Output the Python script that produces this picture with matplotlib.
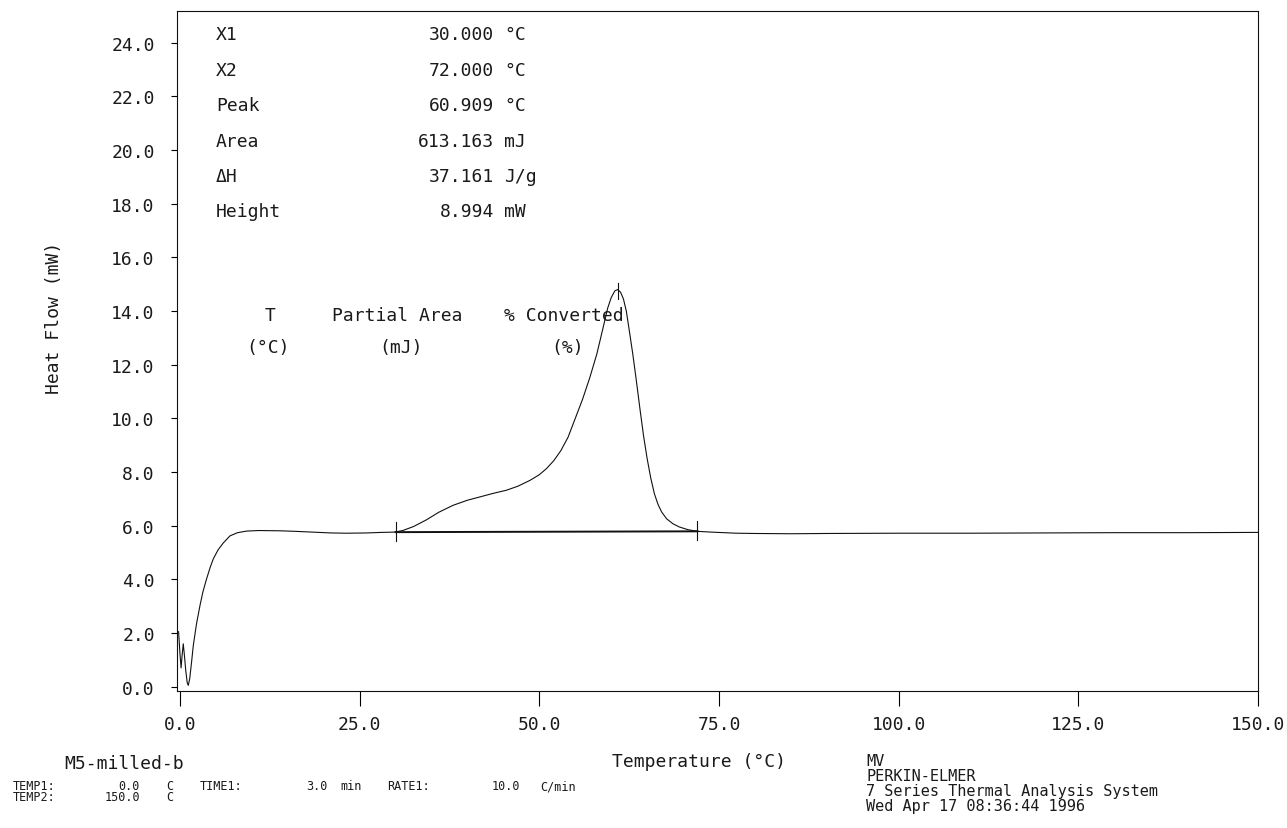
import matplotlib
matplotlib.use("Agg")
import matplotlib.pyplot as plt

# ---------------- data ----------------
temp = [-0.2, 0.0, 0.15, 0.3, 0.45, 0.6, 0.8, 1.0, 1.15, 1.35, 1.6, 1.85, 2.3, 2.78,
        3.2, 3.71, 4.2, 4.64, 5.3, 6.0, 6.95, 8.0, 9.3, 11.0, 13.9, 16.0, 18.5, 21.0,
        23.2, 26.0, 28.0, 29.7, 30.0, 31.0, 32.5, 34.3, 36.0, 38.0, 40.0, 41.7, 43.5,
        45.4, 47.0, 48.7, 50.0, 51.0, 52.0, 53.0, 54.0, 55.0, 56.0, 57.0, 58.0, 58.8,
        59.5, 60.0, 60.5, 60.9, 61.3, 61.7, 62.1, 62.5, 63.0, 63.5, 64.0, 64.5, 65.0,
        65.5, 66.0, 66.5, 67.0, 67.7, 68.6, 69.5, 70.7, 72.0, 74.0, 77.4, 80.0, 85.0,
        90.0, 100.0, 110.0, 120.0, 130.0, 140.0, 150.0]
heat = [2.05, 1.2, 0.7, 1.2, 1.6, 1.2, 0.6, 0.15, 0.05, 0.3, 0.9, 1.54, 2.35, 3.03,
        3.55, 4.03, 4.45, 4.77, 5.1, 5.35, 5.62, 5.74, 5.80, 5.82, 5.81, 5.79, 5.76, 5.73,
        5.72, 5.73, 5.75, 5.76, 5.77, 5.82, 5.97, 6.22, 6.5, 6.76, 6.95, 7.07, 7.2,
        7.32, 7.47, 7.69, 7.9, 8.13, 8.42, 8.8, 9.3, 10.0, 10.7, 11.5, 12.4, 13.3,
        14.1, 14.5, 14.75, 14.8, 14.7, 14.45, 14.0, 13.3, 12.4, 11.4, 10.35, 9.35, 8.5,
        7.78, 7.2, 6.8, 6.52, 6.26, 6.07, 5.95, 5.85, 5.79, 5.76, 5.72, 5.71, 5.70,
        5.71, 5.72, 5.72, 5.73, 5.74, 5.74, 5.75]

x1, x2, peak_t = 30.0, 72.0, 60.909
base_y1, base_y2 = 5.76, 5.79
peak_h = 14.8

xticks = [0.0, 25.0, 50.0, 75.0, 100.0, 125.0, 150.0]
yticks = [0.0, 2.0, 4.0, 6.0, 8.0, 10.0, 12.0, 14.0, 16.0, 18.0, 20.0, 22.0, 24.0]

result_labels = ["X1", "X2", "Peak", "Area", "ΔH", "Height"]
result_values = ["30.000", "72.000", "60.909", "613.163", "37.161", "8.994"]
result_units = ["°C", "°C", "°C", "mJ", "J/g", "mW"]

# ---------------- figure ----------------
W, H = 1287, 829
fig = plt.figure(figsize=(W / 100, H / 100), dpi=100)
FONT = "DejaVu Sans Mono"
TC = "#1a1a1a"

def px(x, y):
    return x / W, 1 - y / H

ax = fig.add_axes([177 / W, 1 - 692 / H, (1258 - 177) / W, (692 - 12) / H])
ax.set_xlim(-0.42, 150.0)
ax.set_ylim(-0.16, 25.18)

ax.plot(temp, heat, color="#111111", lw=0.8)
ax.plot([x1, x2], [base_y1, base_y2], color="#111111", lw=1.4)
for xv, yv in [(x1, base_y1), (x2, base_y2)]:
    ax.plot([xv, xv], [yv - 0.32, yv + 0.38], color="#111111", lw=0.8)
ax.plot([peak_t, peak_t], [peak_h - 0.35, peak_h + 0.25], color="#111111", lw=0.8)

for s in ax.spines.values():
    s.set_linewidth(0.8)
    s.set_color("#111111")

ax.set_xticks(xticks)
ax.set_xticklabels([f"{v:.1f}" for v in xticks])
ax.set_yticks(yticks)
ax.set_yticklabels([f"{v:.1f}" for v in yticks])
ax.tick_params(axis="x", direction="out", length=11, width=0.8, pad=6, labelsize=13,
               labelcolor=TC)
ax.tick_params(axis="y", direction="out", length=4, width=0.8, pad=12, labelsize=13,
               labelcolor=TC)
for lab in ax.get_xticklabels() + ax.get_yticklabels():
    lab.set_fontfamily(FONT)

# results table
row_y = [35, 71, 106, 142, 177, 212]
for lab, val, unit, yy in zip(result_labels, result_values, result_units, row_y):
    fig.text(*px(216, yy), lab, fontsize=13, family=FONT, color=TC, va="center", ha="left")
    fig.text(*px(494, yy), val, fontsize=13, family=FONT, color=TC, va="center", ha="right")
    fig.text(*px(504, yy), unit, fontsize=13, family=FONT, color=TC, va="center", ha="left")

# partial area header
fig.text(*px(270, 316), "T", fontsize=13, family=FONT, color=TC, va="center", ha="center")
fig.text(*px(268, 348), "(°C)", fontsize=13, family=FONT, color=TC, va="center", ha="center")
fig.text(*px(397, 316), "Partial Area", fontsize=13, family=FONT, color=TC, va="center", ha="center")
fig.text(*px(401, 348), "(mJ)", fontsize=13, family=FONT, color=TC, va="center", ha="center")
fig.text(*px(564, 316), "% Converted", fontsize=13, family=FONT, color=TC, va="center", ha="center")
fig.text(*px(568, 348), "(%)", fontsize=13, family=FONT, color=TC, va="center", ha="center")

# axis labels
fig.text(*px(54, 318), "Heat Flow (mW)", fontsize=13, family=FONT, color=TC,
         rotation=90, va="center", ha="center")
fig.text(*px(612, 762), "Temperature (°C)", fontsize=13, family=FONT, color=TC,
         va="center", ha="left")

# footer left
fig.text(*px(64, 764), "M5-milled-b", fontsize=13, family=FONT, color=TC, va="center", ha="left")
small = 8.5
tokens1 = [(13, "TEMP1:", "left"), (140, "0.0", "right"), (166, "C", "left"),
           (200, "TIME1:", "left"), (328, "3.0", "right"), (340, "min", "left"),
           (387, "RATE1:", "left"), (520, "10.0", "right"), (540, "C/min", "left")]
tokens2 = [(13, "TEMP2:", "left"), (140, "150.0", "right"), (166, "C", "left")]
for xx, t, ha in tokens1:
    fig.text(*px(xx, 787), t, fontsize=small, family=FONT, color=TC, va="center", ha=ha)
for xx, t, ha in tokens2:
    fig.text(*px(xx, 798), t, fontsize=small, family=FONT, color=TC, va="center", ha=ha)

# footer right
footer = ["MV", "PERKIN-ELMER", "7 Series Thermal Analysis System", "Wed Apr 17 08:36:44 1996"]
for i, t in enumerate(footer):
    fig.text(*px(866, 762 + 15 * i), t, fontsize=11, family=FONT, color=TC, va="center", ha="left")

fig.savefig("out.png", dpi=100, facecolor="white")
